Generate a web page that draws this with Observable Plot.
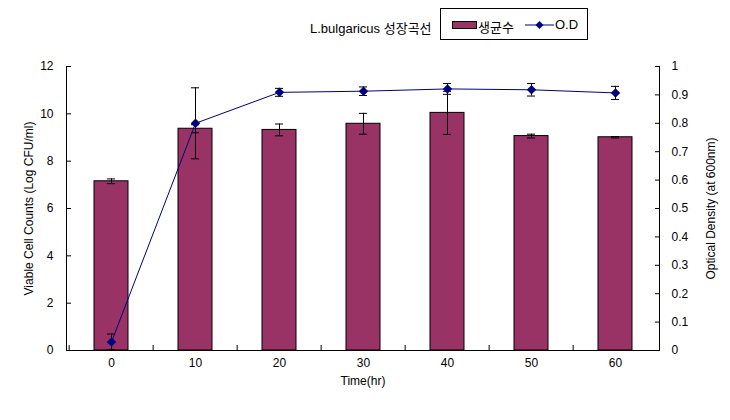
<!DOCTYPE html>
<html>
<head>
<meta charset="utf-8">
<script src="https://cdn.jsdelivr.net/npm/d3@7"></script>
<script src="https://cdn.jsdelivr.net/npm/@observablehq/plot@0.6"></script>
<style>
  body { margin: 0; background: #fff; }
  #wrap { position: relative; width: 730px; height: 420px; font-family: "Liberation Sans", Arial, "Noto Sans CJK KR", sans-serif; }
  #chart svg { display: block; }
  .title { position: absolute; left: 310px; top: 18px; font-size: 13px; white-space: nowrap; }
  .legend { position: absolute; left: 440px; top: 8px; width: 148px; height: 32px; border: 1px solid #000; background: #fff; box-sizing: border-box; font-size: 13px; }
  .legend span { position: absolute; top: 8px; white-space: nowrap; }
  .legend svg { position: absolute; top: 0; left: 0; }
</style>
</head>
<body>
<div id="wrap">
  <div id="chart"></div>
  <div class="title">L.bulgaricus 성장곡선</div>
  <div class="legend">
    <svg width="148" height="31">
      <rect x="11.5" y="12.5" width="24" height="7" fill="#993366" stroke="#000"/>
      <line x1="84" y1="16" x2="113" y2="16" stroke="#000080" stroke-width="1"/>
      <path d="M98.5,12 L102.5,16 L98.5,20 L94.5,16 Z" fill="#000080"/>
    </svg>
    <span style="left:37px">생균수</span>
    <span style="left:114px">O.D</span>
  </div>
</div>
<script>
const times = ["0", "10", "20", "30", "40", "50", "60"];
const counts = [7.15, 9.37, 9.32, 9.58, 10.04, 9.06, 9.01];
const countErr = [0.1, 0.17, 0.25, 0.44, 0.91, 0.08, 0.03];
const od = [0.03, 0.80, 0.909, 0.913, 0.921, 0.918, 0.907];
const odErr = [0.028, 0.125, 0.014, 0.015, 0.019, 0.022, 0.023];
const leftTicks = [0, 2, 4, 6, 8, 10, 12];
const rightTicks = [0, 0.1, 0.2, 0.3, 0.4, 0.5, 0.6, 0.7, 0.8, 0.9, 1];
const ODMAX = 1, YMAX = 12;

const rows = times.map((t, i) => ({
  t,
  c: counts[i], cLo: counts[i] - countErr[i], cHi: counts[i] + countErr[i],
  od: od[i] * YMAX / ODMAX,
  odLo: (od[i] - odErr[i]) * YMAX / ODMAX,
  odHi: (od[i] + odErr[i]) * YMAX / ODMAX
}));

const W = 730, H = 420, ML = 66, MR = 71, MT = 66, MB = 70;
const step = (W - ML - MR) / times.length;
const capInset = (step * 0.4 - 8) / 2;
const blank = () => "";

const chart = Plot.plot({
  width: W, height: H,
  marginLeft: ML, marginRight: MR, marginTop: MT, marginBottom: MB,
  style: { fontFamily: '"Liberation Sans", Arial, sans-serif', fontSize: "12px", color: "#000", background: "#fff" },
  x: { type: "band", domain: times, paddingInner: 0.6, paddingOuter: 0.3 },
  y: { domain: [0, YMAX] },
  marks: [
    Plot.barY(rows, { x: "t", y: "c", fill: "#993366", stroke: "#000", strokeWidth: 1 }),
    Plot.ruleX(rows, { x: "t", y1: "cLo", y2: "cHi", stroke: "#000" }),
    Plot.tickY(rows, { x: "t", y: "cLo", stroke: "#000", insetLeft: capInset, insetRight: capInset }),
    Plot.tickY(rows, { x: "t", y: "cHi", stroke: "#000", insetLeft: capInset, insetRight: capInset }),
    Plot.line(rows, { x: "t", y: "od", stroke: "#000080", strokeWidth: 1 }),
    Plot.ruleX(rows, { x: "t", y1: "odLo", y2: "odHi", stroke: "#000" }),
    Plot.tickY(rows, { x: "t", y: "odLo", stroke: "#000", insetLeft: capInset, insetRight: capInset }),
    Plot.tickY(rows, { x: "t", y: "odHi", stroke: "#000", insetLeft: capInset, insetRight: capInset }),
    Plot.dot(rows, { x: "t", y: "od", symbol: "diamond2", r: 3.3, fill: "#000080", stroke: "#000080" }),
    Plot.ruleY([0], { stroke: "#000" }),
    Plot.frame({ anchor: "left", stroke: "#000" }),
    Plot.frame({ anchor: "right", stroke: "#000" }),
    Plot.axisY(leftTicks, {
      anchor: "left", tickSize: 0, tickPadding: 13, fontSize: 12,
      label: "Viable Cell Counts (Log CFU/ml)", labelAnchor: "center", labelOffset: 42, labelArrow: "none"
    }),
    Plot.axisY(leftTicks, { anchor: "left", tickSize: 5, dx: 5, stroke: "#000", tickFormat: blank, label: null }),
    Plot.axisY(rightTicks.map(v => v * YMAX / ODMAX), {
      anchor: "right", tickSize: 0, tickPadding: 12, fontSize: 12,
      tickFormat: d => String(Math.round(d / YMAX * ODMAX * 10) / 10),
      label: "Optical Density (at 600nm)", labelAnchor: "center", labelOffset: 55, labelArrow: "none"
    }),
    Plot.axisY(rightTicks.map(v => v * YMAX / ODMAX), { anchor: "right", tickSize: 5, dx: -5, stroke: "#000", tickFormat: blank, label: null }),
    Plot.axisX({
      anchor: "bottom", tickSize: 0, tickPadding: 8, fontSize: 12,
      label: "Time(hr)", labelAnchor: "center", labelOffset: 34, labelArrow: "none"
    }),
    Plot.axisX({ anchor: "bottom", tickSize: 5, dx: -step / 2, dy: -5, stroke: "#000", tickFormat: blank, label: null })
  ]
});
document.getElementById("chart").appendChild(chart);
</script>
</body>
</html>
